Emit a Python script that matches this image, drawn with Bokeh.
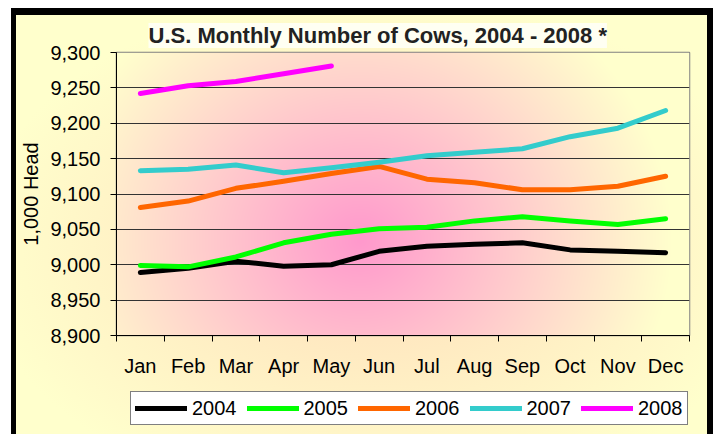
import numpy as np
from bokeh.plotting import figure
from bokeh.layouts import column
from bokeh.models import (FixedTicker, NumeralTickFormatter, Legend, LegendItem,
                          Range1d)
from bokeh.core.properties import value
from bokeh.embed import file_html
from bokeh.resources import INLINE

# ---- data -------------------------------------------------------------
months = ["Jan", "Feb", "Mar", "Apr", "May", "Jun",
          "Jul", "Aug", "Sep", "Oct", "Nov", "Dec"]
years = ["2004", "2005", "2006", "2007", "2008"]
cows_2004 = [8989, 8995, 9005, 8998, 9000, 9019, 9026, 9029, 9031, 9021, 9019, 9017]
cows_2005 = [8999, 8997, 9011, 9031, 9043, 9051, 9053, 9062, 9068, 9062, 9057, 9065]
cows_2006 = [9081, 9090, 9108, 9118, 9129, 9139, 9121, 9116, 9106, 9106, 9111, 9125]
cows_2007 = [9133, 9135, 9141, 9130, 9137, 9145, 9154, 9159, 9164, 9181, 9193, 9218]
cows_2008 = [9242, 9253, 9259, 9270, 9281]
y_ticks = [8900, 8950, 9000, 9050, 9100, 9150, 9200, 9250, 9300]
series_colors = ["#000000", "#00FF00", "#FF6600", "#33CCCC", "#FF00FF"]
title_text = "U.S. Monthly Number of Cows, 2004 - 2008 *"
y_label = "1,000 Head"

FONT = "Liberation Sans"

# ---- main chart ---------------------------------------------------------
p = figure(width=691, height=370, output_backend="svg", toolbar_location=None,
           x_range=Range1d(0, len(months)), y_range=Range1d(y_ticks[0], y_ticks[-1]),
           min_border_left=100, min_border_right=18, min_border_top=37,
           min_border_bottom=50)
p.border_fill_alpha = 0
p.background_fill_alpha = 0
p.outline_line_color = "#808080"
p.outline_line_width = 1.5

p.title.text = title_text
p.title.align = "left"
p.title.offset = 32
p.title.standoff = 9
p.title.text_font = FONT
p.title.text_font_size = "22px"
p.title.text_font_style = "bold"
p.title.text_color = "#222222"
p.title.background_fill_color = "#FFFFF2"

# radial pink gradient for the plot area
fw, fh = 573, 283
gx = np.arange(fw) + 0.5
gy = np.arange(fh) + 0.5
X, Y = np.meshgrid(gx, gy)
cx, cy = 244.0, 95.0
t = np.sqrt(((X - cx) / 310.0) ** 2 + ((Y - cy) / 285.0) ** 2).clip(0, 1)
img = np.empty((fh, fw), dtype=np.uint32)
view = img.view(dtype=np.uint8).reshape((fh, fw, 4))
view[:, :, 0] = 255
view[:, :, 1] = (153 + (255 - 153) * t).astype(np.uint8)
view[:, :, 2] = 204
view[:, :, 3] = 255
p.image_rgba(image=[img], x=0, y=y_ticks[0], dw=len(months),
             dh=y_ticks[-1] - y_ticks[0], level="image")

xpos = np.arange(len(months)) + 0.5
all_series = [cows_2004, cows_2005, cows_2006, cows_2007, cows_2008]
for vals, col in zip(all_series, series_colors):
    p.line(x=xpos[:len(vals)], y=vals, line_width=5, line_color=col,
           line_cap="round", line_join="round")

p.xaxis.ticker = FixedTicker(ticks=list(xpos), minor_ticks=list(range(len(months) + 1)))
p.xaxis.major_label_overrides = {float(x): m for x, m in zip(xpos, months)}
p.xaxis.major_tick_out = 0
p.xaxis.major_tick_in = 0
p.xaxis.minor_tick_out = 6
p.xaxis.minor_tick_in = 0
p.xaxis.minor_tick_line_color = "black"
p.xaxis.major_label_standoff = 13
p.xaxis.major_label_text_font = FONT
p.xaxis.major_label_text_font_size = "20px"
p.xaxis.major_label_text_color = "black"
p.xaxis.axis_line_color = "black"

p.yaxis.ticker = FixedTicker(ticks=y_ticks)
p.yaxis.formatter = NumeralTickFormatter(format="0,0")
p.yaxis.major_tick_out = 6
p.yaxis.major_tick_in = 0
p.yaxis.major_label_standoff = 10
p.yaxis.major_label_text_font = FONT
p.yaxis.major_label_text_font_size = "20px"
p.yaxis.major_label_text_color = "black"
p.yaxis.axis_label = y_label
p.yaxis.axis_label_standoff = 5
p.yaxis.axis_label_text_font = FONT
p.yaxis.axis_label_text_font_size = "20px"
p.yaxis.axis_label_text_font_style = "normal"
p.yaxis.axis_label_text_color = "black"
p.yaxis.axis_line_color = "black"

p.xgrid.visible = False
p.ygrid.ticker = FixedTicker(ticks=y_ticks)
p.ygrid.grid_line_color = "#333333"
p.ygrid.grid_line_width = 1

# ---- legend strip (same series, drawn out of view; only the legend shows) --
lf = figure(width=691, height=49, output_backend="svg", toolbar_location=None,
            x_range=Range1d(-2, -1), y_range=Range1d(-2, -1),
            x_axis_location=None, y_axis_location=None, min_border=0,
            title=None)
lf.border_fill_alpha = 0
lf.background_fill_alpha = 0
lf.outline_line_color = None
lf.grid.visible = False
items = []
for yr, vals, col in zip(years, all_series, series_colors):
    r = lf.line(x=xpos[:len(vals)], y=vals, line_width=5, line_color=col,
                line_cap="round")
    items.append(LegendItem(label=value(yr), renderers=[r]))
legend = Legend(items=items, location=(14, 9), orientation="horizontal",
                glyph_width=52, glyph_height=24, label_height=24,
                label_standoff=5, spacing=10, padding=4, margin=0,
                border_line_color="black", border_line_width=1,
                background_fill_color="white", background_fill_alpha=1,
                label_text_font=FONT, label_text_font_size="20px",
                label_text_color="black")
lf.add_layout(legend)

layout = column(p, lf, spacing=0, styles={
    "box-sizing": "content-box",
    "margin-left": "11px",
    "margin-top": "8px",
    "border-left": "5px solid black",
    "border-top": "7px solid black",
    "border-right": "6px solid black",
    "background": "radial-gradient(ellipse 58% 62% at 52% 56%, #FFDDBB 0%, #FFFFCC 100%)",
})

open("out.html", "w").write(file_html(layout, INLINE))
